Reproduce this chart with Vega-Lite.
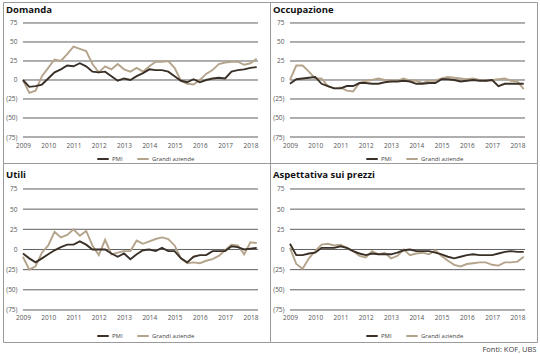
{
  "$schema": "https://vega.github.io/schema/vega-lite/v6.json",
  "padding": {"left": 2, "top": 1, "right": 2, "bottom": 0},
  "autosize": {"type": "pad"},
  "background": "white",
  "title": {"text": "Fonti: KOF, UBS", "orient": "bottom", "anchor": "end", "frame": "bounds", "fontSize": 7.5, "fontWeight": "normal", "color": "#404040", "offset": 3, "dx": -1, "font": "Open Sans"},
  "datasets": {
    "domanda": [
      {"t":2009,"PMI":0,"Grandi aziende":0},{"t":2009.25,"PMI":-9,"Grandi aziende":-17},{"t":2009.5,"PMI":-8,"Grandi aziende":-14},{"t":2009.75,"PMI":-6,"Grandi aziende":5},
      {"t":2010,"PMI":2,"Grandi aziende":16},{"t":2010.25,"PMI":10,"Grandi aziende":27},{"t":2010.5,"PMI":14,"Grandi aziende":25},{"t":2010.75,"PMI":19,"Grandi aziende":34},
      {"t":2011,"PMI":18,"Grandi aziende":44},{"t":2011.25,"PMI":22,"Grandi aziende":41},{"t":2011.5,"PMI":18,"Grandi aziende":38},{"t":2011.75,"PMI":11,"Grandi aziende":21},
      {"t":2012,"PMI":10,"Grandi aziende":10},{"t":2012.25,"PMI":11,"Grandi aziende":18},{"t":2012.5,"PMI":5,"Grandi aziende":14},{"t":2012.75,"PMI":-1,"Grandi aziende":21},
      {"t":2013,"PMI":2,"Grandi aziende":14},{"t":2013.25,"PMI":0,"Grandi aziende":11},{"t":2013.5,"PMI":5,"Grandi aziende":16},{"t":2013.75,"PMI":9,"Grandi aziende":11},
      {"t":2014,"PMI":14,"Grandi aziende":18},{"t":2014.25,"PMI":13,"Grandi aziende":24},{"t":2014.5,"PMI":13,"Grandi aziende":24},{"t":2014.75,"PMI":11,"Grandi aziende":25},
      {"t":2015,"PMI":5,"Grandi aziende":16},{"t":2015.25,"PMI":-1,"Grandi aziende":-1},{"t":2015.5,"PMI":-3,"Grandi aziende":-5},{"t":2015.75,"PMI":1,"Grandi aziende":-6},
      {"t":2016,"PMI":-3,"Grandi aziende":0},{"t":2016.25,"PMI":0,"Grandi aziende":8},{"t":2016.5,"PMI":2,"Grandi aziende":13},{"t":2016.75,"PMI":3,"Grandi aziende":21},
      {"t":2017,"PMI":2,"Grandi aziende":23},{"t":2017.25,"PMI":11,"Grandi aziende":24},{"t":2017.5,"PMI":13,"Grandi aziende":24},{"t":2017.75,"PMI":14,"Grandi aziende":20},
      {"t":2018,"PMI":16,"Grandi aziende":22},{"t":2018.25,"PMI":17,"Grandi aziende":28}
    ],
    "occupazione": [
      {"t":2009,"PMI":-5,"Grandi aziende":0},{"t":2009.25,"PMI":1,"Grandi aziende":19},{"t":2009.5,"PMI":2,"Grandi aziende":19},{"t":2009.75,"PMI":3,"Grandi aziende":11},
      {"t":2010,"PMI":4,"Grandi aziende":2},{"t":2010.25,"PMI":-5,"Grandi aziende":2},{"t":2010.5,"PMI":-8,"Grandi aziende":-8},{"t":2010.75,"PMI":-11,"Grandi aziende":-11},
      {"t":2011,"PMI":-11,"Grandi aziende":-10},{"t":2011.25,"PMI":-8,"Grandi aziende":-14},{"t":2011.5,"PMI":-8,"Grandi aziende":-15},{"t":2011.75,"PMI":-4,"Grandi aziende":-4},
      {"t":2012,"PMI":-4,"Grandi aziende":-1},{"t":2012.25,"PMI":-5,"Grandi aziende":0},{"t":2012.5,"PMI":-5,"Grandi aziende":2},{"t":2012.75,"PMI":-3,"Grandi aziende":0},
      {"t":2013,"PMI":-2,"Grandi aziende":-1},{"t":2013.25,"PMI":-2,"Grandi aziende":-1},{"t":2013.5,"PMI":-1,"Grandi aziende":2},{"t":2013.75,"PMI":-2,"Grandi aziende":-1},
      {"t":2014,"PMI":-5,"Grandi aziende":-1},{"t":2014.25,"PMI":-5,"Grandi aziende":-4},{"t":2014.5,"PMI":-4,"Grandi aziende":-1},{"t":2014.75,"PMI":-4,"Grandi aziende":-1},
      {"t":2015,"PMI":1,"Grandi aziende":2},{"t":2015.25,"PMI":1,"Grandi aziende":4},{"t":2015.5,"PMI":0,"Grandi aziende":3},{"t":2015.75,"PMI":-2,"Grandi aziende":2},
      {"t":2016,"PMI":-1,"Grandi aziende":1},{"t":2016.25,"PMI":0,"Grandi aziende":2},{"t":2016.5,"PMI":-1,"Grandi aziende":0},{"t":2016.75,"PMI":-1,"Grandi aziende":-1},
      {"t":2017,"PMI":0,"Grandi aziende":0},{"t":2017.25,"PMI":-8,"Grandi aziende":1},{"t":2017.5,"PMI":-5,"Grandi aziende":2},{"t":2017.75,"PMI":-5,"Grandi aziende":-1},
      {"t":2018,"PMI":-5,"Grandi aziende":-2},{"t":2018.25,"PMI":-5,"Grandi aziende":-12}
    ],
    "utili": [
      {"t":2009,"PMI":-5,"Grandi aziende":-9},{"t":2009.25,"PMI":-11,"Grandi aziende":-25},{"t":2009.5,"PMI":-16,"Grandi aziende":-21},{"t":2009.75,"PMI":-11,"Grandi aziende":-4},
      {"t":2010,"PMI":-6,"Grandi aziende":5},{"t":2010.25,"PMI":-1,"Grandi aziende":22},{"t":2010.5,"PMI":3,"Grandi aziende":15},{"t":2010.75,"PMI":6,"Grandi aziende":18},
      {"t":2011,"PMI":6,"Grandi aziende":25},{"t":2011.25,"PMI":10,"Grandi aziende":17},{"t":2011.5,"PMI":6,"Grandi aziende":23},{"t":2011.75,"PMI":0,"Grandi aziende":5},
      {"t":2012,"PMI":0,"Grandi aziende":-7},{"t":2012.25,"PMI":0,"Grandi aziende":12},{"t":2012.5,"PMI":-5,"Grandi aziende":-6},{"t":2012.75,"PMI":-9,"Grandi aziende":-4},
      {"t":2013,"PMI":-5,"Grandi aziende":-2},{"t":2013.25,"PMI":-12,"Grandi aziende":-2},{"t":2013.5,"PMI":-6,"Grandi aziende":11},{"t":2013.75,"PMI":-1,"Grandi aziende":7},
      {"t":2014,"PMI":0,"Grandi aziende":10},{"t":2014.25,"PMI":-2,"Grandi aziende":13},{"t":2014.5,"PMI":2,"Grandi aziende":15},{"t":2014.75,"PMI":-2,"Grandi aziende":13},
      {"t":2015,"PMI":-2,"Grandi aziende":5},{"t":2015.25,"PMI":-11,"Grandi aziende":-11},{"t":2015.5,"PMI":-16,"Grandi aziende":-17},{"t":2015.75,"PMI":-9,"Grandi aziende":-16},
      {"t":2016,"PMI":-7,"Grandi aziende":-17},{"t":2016.25,"PMI":-7,"Grandi aziende":-14},{"t":2016.5,"PMI":-2,"Grandi aziende":-12},{"t":2016.75,"PMI":-2,"Grandi aziende":-8},
      {"t":2017,"PMI":-2,"Grandi aziende":-1},{"t":2017.25,"PMI":4,"Grandi aziende":6},{"t":2017.5,"PMI":3,"Grandi aziende":5},{"t":2017.75,"PMI":0,"Grandi aziende":-6},
      {"t":2018,"PMI":1,"Grandi aziende":9},{"t":2018.25,"PMI":2,"Grandi aziende":8}
    ],
    "prezzi": [
      {"t":2009,"PMI":7,"Grandi aziende":2},{"t":2009.25,"PMI":-7,"Grandi aziende":-18},{"t":2009.5,"PMI":-7,"Grandi aziende":-24},{"t":2009.75,"PMI":-5,"Grandi aziende":-11},
      {"t":2010,"PMI":-4,"Grandi aziende":-2},{"t":2010.25,"PMI":2,"Grandi aziende":6},{"t":2010.5,"PMI":2,"Grandi aziende":7},{"t":2010.75,"PMI":2,"Grandi aziende":5},
      {"t":2011,"PMI":4,"Grandi aziende":6},{"t":2011.25,"PMI":2,"Grandi aziende":2},{"t":2011.5,"PMI":-2,"Grandi aziende":-2},{"t":2011.75,"PMI":-5,"Grandi aziende":-8},
      {"t":2012,"PMI":-7,"Grandi aziende":-10},{"t":2012.25,"PMI":-5,"Grandi aziende":-2},{"t":2012.5,"PMI":-6,"Grandi aziende":-6},{"t":2012.75,"PMI":-6,"Grandi aziende":-4},
      {"t":2013,"PMI":-6,"Grandi aziende":-11},{"t":2013.25,"PMI":-4,"Grandi aziende":-8},{"t":2013.5,"PMI":-1,"Grandi aziende":0},{"t":2013.75,"PMI":0,"Grandi aziende":-7},
      {"t":2014,"PMI":-2,"Grandi aziende":-5},{"t":2014.25,"PMI":-2,"Grandi aziende":-4},{"t":2014.5,"PMI":-2,"Grandi aziende":-6},{"t":2014.75,"PMI":-4,"Grandi aziende":-1},
      {"t":2015,"PMI":-6,"Grandi aziende":-8},{"t":2015.25,"PMI":-9,"Grandi aziende":-14},{"t":2015.5,"PMI":-11,"Grandi aziende":-19},{"t":2015.75,"PMI":-9,"Grandi aziende":-21},
      {"t":2016,"PMI":-7,"Grandi aziende":-18},{"t":2016.25,"PMI":-6,"Grandi aziende":-17},{"t":2016.5,"PMI":-7,"Grandi aziende":-16},{"t":2016.75,"PMI":-7,"Grandi aziende":-16},
      {"t":2017,"PMI":-7,"Grandi aziende":-19},{"t":2017.25,"PMI":-5,"Grandi aziende":-20},{"t":2017.5,"PMI":-3,"Grandi aziende":-16},{"t":2017.75,"PMI":-2,"Grandi aziende":-16},
      {"t":2018,"PMI":-3,"Grandi aziende":-15},{"t":2018.25,"PMI":-3,"Grandi aziende":-9}
    ],
    "griglia": [{"g":75},{"g":50},{"g":25},{"g":0},{"g":-25},{"g":-50},{"g":-75}]
  },
  "concat": [
    {
      "width": 267, "height": 161,
      "title": {"text": "Domanda", "offset": -12},
      "layer": [
        {"data": {"name": "griglia"}, "mark": {"type": "rule", "color": "#4d4d4d", "strokeWidth": 0.9},
         "encoding": {
           "y": {"field": "g", "type": "quantitative", "scale": {"domain": [-109.2, 102.6], "nice": false, "zero": false},
                 "axis": {"values": [-75,-50,-25,0,25,50,75], "labelExpr": "datum.value < 0 ? '(' + abs(datum.value) + ')' : datum.label", "offset": -20, "labelPadding": 6, "labelOverlap": false}},
           "x": {"datum": 2009, "type": "quantitative", "scale": {"domain": [2008.21, 2018.775], "nice": false, "zero": false},
                 "axis": {"values": [2009,2010,2011,2012,2013,2014,2015,2016,2017,2018], "format": "d", "offset": -26, "labelPadding": 5, "labelFlush": false, "labelOverlap": false}},
           "x2": {"datum": 2018.3}}},
        {"data": {"name": "domanda"}, "transform": [{"fold": ["Grandi aziende", "PMI"], "as": ["serie", "v"]}],
         "mark": {"type": "line", "strokeWidth": 1.9},
         "encoding": {
           "x": {"field": "t", "type": "quantitative",
                 "axis": {"values": [2009,2010,2011,2012,2013,2014,2015,2016,2017,2018], "format": "d", "offset": -26, "labelPadding": 5, "labelFlush": false, "labelOverlap": false}},
           "y": {"field": "v", "type": "quantitative",
                 "axis": {"values": [-75,-50,-25,0,25,50,75], "labelExpr": "datum.value < 0 ? '(' + abs(datum.value) + ')' : datum.label", "offset": -20, "labelPadding": 6, "labelOverlap": false}},
           "color": {"field": "serie", "type": "nominal", "scale": {"domain": ["PMI", "Grandi aziende"], "range": ["#3a3027", "#b5a48c"]}, "legend": {"orient": "none", "legendX": 93, "legendY": 150}}}}
      ]
    },
    {
      "width": 267, "height": 161,
      "title": {"text": "Occupazione", "offset": -12},
      "layer": [
        {"data": {"name": "griglia"}, "mark": {"type": "rule", "color": "#4d4d4d", "strokeWidth": 0.9},
         "encoding": {
           "y": {"field": "g", "type": "quantitative", "scale": {"domain": [-109.2, 102.6], "nice": false, "zero": false},
                 "axis": {"values": [-75,-50,-25,0,25,50,75], "labelExpr": "datum.value < 0 ? '(' + abs(datum.value) + ')' : datum.label", "offset": -20, "labelPadding": 6, "labelOverlap": false}},
           "x": {"datum": 2009, "type": "quantitative", "scale": {"domain": [2008.21, 2018.775], "nice": false, "zero": false},
                 "axis": {"values": [2009,2010,2011,2012,2013,2014,2015,2016,2017,2018], "format": "d", "offset": -26, "labelPadding": 5, "labelFlush": false, "labelOverlap": false}},
           "x2": {"datum": 2018.3}}},
        {"data": {"name": "occupazione"}, "transform": [{"fold": ["Grandi aziende", "PMI"], "as": ["serie", "v"]}],
         "mark": {"type": "line", "strokeWidth": 1.9},
         "encoding": {
           "x": {"field": "t", "type": "quantitative",
                 "axis": {"values": [2009,2010,2011,2012,2013,2014,2015,2016,2017,2018], "format": "d", "offset": -26, "labelPadding": 5, "labelFlush": false, "labelOverlap": false}},
           "y": {"field": "v", "type": "quantitative",
                 "axis": {"values": [-75,-50,-25,0,25,50,75], "labelExpr": "datum.value < 0 ? '(' + abs(datum.value) + ')' : datum.label", "offset": -20, "labelPadding": 6, "labelOverlap": false}},
           "color": {"field": "serie", "type": "nominal", "scale": {"domain": ["PMI", "Grandi aziende"], "range": ["#3a3027", "#b5a48c"]}, "legend": {"orient": "none", "legendX": 95, "legendY": 150}}}}
      ]
    },
    {
      "width": 267, "height": 179,
      "title": {"text": "Utili", "offset": -16},
      "layer": [
        {"data": {"name": "griglia"}, "mark": {"type": "rule", "color": "#4d4d4d", "strokeWidth": 0.9},
         "encoding": {
           "y": {"field": "g", "type": "quantitative", "scale": {"domain": [-114.7, 107.2], "nice": false, "zero": false},
                 "axis": {"values": [-75,-50,-25,0,25,50,75], "labelExpr": "datum.value < 0 ? '(' + abs(datum.value) + ')' : datum.label", "offset": -20, "labelPadding": 6, "labelOverlap": false}},
           "x": {"datum": 2009, "type": "quantitative", "scale": {"domain": [2008.21, 2018.775], "nice": false, "zero": false},
                 "axis": {"values": [2009,2010,2011,2012,2013,2014,2015,2016,2017,2018], "format": "d", "offset": -32, "labelPadding": 4, "labelFlush": false, "labelOverlap": false}},
           "x2": {"datum": 2018.3}}},
        {"data": {"name": "utili"}, "transform": [{"fold": ["Grandi aziende", "PMI"], "as": ["serie", "v"]}],
         "mark": {"type": "line", "strokeWidth": 1.9},
         "encoding": {
           "x": {"field": "t", "type": "quantitative",
                 "axis": {"values": [2009,2010,2011,2012,2013,2014,2015,2016,2017,2018], "format": "d", "offset": -32, "labelPadding": 4, "labelFlush": false, "labelOverlap": false}},
           "y": {"field": "v", "type": "quantitative",
                 "axis": {"values": [-75,-50,-25,0,25,50,75], "labelExpr": "datum.value < 0 ? '(' + abs(datum.value) + ')' : datum.label", "offset": -20, "labelPadding": 6, "labelOverlap": false}},
           "color": {"field": "serie", "type": "nominal", "scale": {"domain": ["PMI", "Grandi aziende"], "range": ["#3a3027", "#b5a48c"]}, "legend": {"orient": "none", "legendX": 93, "legendY": 166}}}}
      ]
    },
    {
      "width": 267, "height": 179,
      "title": {"text": "Aspettativa sui prezzi", "offset": -16},
      "layer": [
        {"data": {"name": "griglia"}, "mark": {"type": "rule", "color": "#4d4d4d", "strokeWidth": 0.9},
         "encoding": {
           "y": {"field": "g", "type": "quantitative", "scale": {"domain": [-114.7, 107.2], "nice": false, "zero": false},
                 "axis": {"values": [-75,-50,-25,0,25,50,75], "labelExpr": "datum.value < 0 ? '(' + abs(datum.value) + ')' : datum.label", "offset": -20, "labelPadding": 6, "labelOverlap": false}},
           "x": {"datum": 2009, "type": "quantitative", "scale": {"domain": [2008.21, 2018.775], "nice": false, "zero": false},
                 "axis": {"values": [2009,2010,2011,2012,2013,2014,2015,2016,2017,2018], "format": "d", "offset": -32, "labelPadding": 4, "labelFlush": false, "labelOverlap": false}},
           "x2": {"datum": 2018.3}}},
        {"data": {"name": "prezzi"}, "transform": [{"fold": ["Grandi aziende", "PMI"], "as": ["serie", "v"]}],
         "mark": {"type": "line", "strokeWidth": 1.9},
         "encoding": {
           "x": {"field": "t", "type": "quantitative",
                 "axis": {"values": [2009,2010,2011,2012,2013,2014,2015,2016,2017,2018], "format": "d", "offset": -32, "labelPadding": 4, "labelFlush": false, "labelOverlap": false}},
           "y": {"field": "v", "type": "quantitative",
                 "axis": {"values": [-75,-50,-25,0,25,50,75], "labelExpr": "datum.value < 0 ? '(' + abs(datum.value) + ')' : datum.label", "offset": -20, "labelPadding": 6, "labelOverlap": false}},
           "color": {"field": "serie", "type": "nominal", "scale": {"domain": ["PMI", "Grandi aziende"], "range": ["#3a3027", "#b5a48c"]}, "legend": {"orient": "none", "legendX": 95, "legendY": 166}}}}
      ]
    }
  ],
  "columns": 2,
  "spacing": 0,
  "bounds": "flush",
  "resolve": {"legend": {"color": "independent"}},
  "config": {
    "view": {"stroke": "#9a9a9a", "strokeWidth": 1},
    "title": {"anchor": "start", "frame": "group", "fontSize": 9.5, "fontWeight": "bold", "font": "Open Sans", "color": "#111111", "dx": 3},
    "axis": {"domain": false, "ticks": false, "grid": false, "title": null, "labelFont": "Open Sans", "labelFontSize": 6.5, "labelColor": "#555555", "labelOverlap": false},
    "legend": {"direction": "horizontal", "title": null, "symbolType": "stroke", "symbolStrokeWidth": 2, "symbolSize": 130, "labelFont": "Open Sans", "labelFontSize": 6, "labelColor": "#444444", "columnPadding": 10, "padding": 0, "labelOffset": 2}
  }
}
